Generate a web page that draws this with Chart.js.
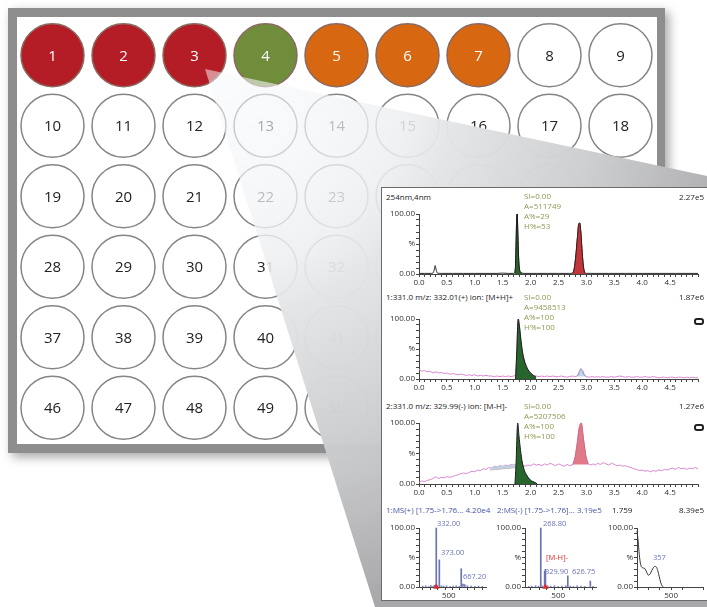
<!DOCTYPE html>
<html>
<head>
<meta charset="utf-8">
<script src="https://cdn.jsdelivr.net/npm/chart.js@4.4.1/dist/chart.umd.min.js"></script>
<style>
html, body { margin: 0; padding: 0; background: #fff; }
body { width: 707px; height: 607px; position: relative; overflow: hidden; font-family: 'Open Sans', sans-serif; }
canvas { position: absolute; }
#panel { position: absolute; left: 381px; top: 187px; width: 340px; height: 414px; background: #fff; border: 1px solid #6b6b6b; box-sizing: border-box; }
.t { position: absolute; font-size: 8px; line-height: 10px; color: #222; white-space: nowrap; }
.rt { right: 3px; }
.ann { color: #8d9a55; }
.ms { color: #4a58a6; }
.pk { color: #6c72b8; font-size: 7.5px; }
.red { color: #e0282a; font-size: 7.5px; }
.icon { position: absolute; width: 6px; height: 3px; border: 2px solid #222; border-radius: 3px; }
</style>
</head>
<body>
<canvas id="plate" width="707" height="607" style="left:0;top:0"></canvas>
<div id="panel"></div>

<canvas id="c1" width="323" height="86" style="left:384px;top:204px"></canvas>
<canvas id="c2" width="323" height="86" style="left:384px;top:309px"></canvas>
<canvas id="c3" width="323" height="87" style="left:384px;top:413px"></canvas>
<canvas id="s1" width="106" height="83" style="left:384px;top:518px"></canvas>
<canvas id="s2" width="110" height="83" style="left:490px;top:518px"></canvas>
<canvas id="s3" width="105" height="83" style="left:602px;top:518px"></canvas>

<!-- chromatogram 1 -->
<div class="t" style="left:386px;top:192px">254nm,4nm</div>
<div class="t rt" style="top:192px">2.27e5</div>
<div class="t ann" style="left:524px;top:191px">SI=0.00</div>
<div class="t ann" style="left:524px;top:201px">A=511749</div>
<div class="t ann" style="left:524px;top:211px">A%=29</div>
<div class="t ann" style="left:524px;top:221px">H%=53</div>

<!-- chromatogram 2 -->
<div class="t" style="left:386px;top:292px">1:331.0 m/z: 332.01(+) ion: [M+H]+</div>
<div class="t rt" style="top:292px">1.87e6</div>
<div class="t ann" style="left:524px;top:292px">SI=0.00</div>
<div class="t ann" style="left:524px;top:302px">A=9458513</div>
<div class="t ann" style="left:524px;top:312px">A%=100</div>
<div class="t ann" style="left:524px;top:322px">H%=100</div>
<div class="icon" style="left:694px;top:318px"></div>

<!-- chromatogram 3 -->
<div class="t" style="left:386px;top:401px">2:331.0 m/z: 329.99(-) ion: [M-H]-</div>
<div class="t rt" style="top:401px">1.27e6</div>
<div class="t ann" style="left:524px;top:401px">SI=0.00</div>
<div class="t ann" style="left:524px;top:411px">A=5207506</div>
<div class="t ann" style="left:524px;top:421px">A%=100</div>
<div class="t ann" style="left:524px;top:431px">H%=100</div>
<div class="icon" style="left:694px;top:424px"></div>

<!-- spectra -->
<div class="t ms" style="left:386px;top:505px">1:MS(+) [1.75-&gt;1.76... 4.20e4</div>
<div class="t ms" style="left:497px;top:505px">2:MS(-) [1.75-&gt;1.76]... 3.19e5</div>
<div class="t" style="left:612px;top:505px">1.759</div>
<div class="t rt" style="top:505px">8.39e5</div>
<div class="t pk" style="left:437px;top:518px">332.00</div>
<div class="t pk" style="left:441px;top:547px">373.00</div>
<div class="t pk" style="left:463px;top:571px">667.20</div>
<div class="t pk" style="left:543px;top:518px">268.80</div>
<div class="t red" style="left:546px;top:552px">[M-H]-</div>
<div class="t pk" style="left:545px;top:566px">329.90</div>
<div class="t pk" style="left:572px;top:566px">626.75</div>
<div class="t pk" style="left:653px;top:552px">357</div>

<script>
// ---- plate ----
const wellLabels = [
  1, 2, 3, 4, 5, 6, 7, 8, 9,
  10, 11, 12, 13, 14, 15, 16, 17, 18,
  19, 20, 21, 22, 23, 24, 25, 26, 27,
  28, 29, 30, 31, 32, 33, 34, 35, 36,
  37, 38, 39, 40, 41, 42, 43, 44, 45,
  46, 47, 48, 49, 50, 51, 52, 53, 54
];
const wellStatus = ['hit', 'hit', 'hit', 'ok', 'warn', 'warn', 'warn'];
const statusFill = { hit: '#b41d26', ok: '#708d3b', warn: '#d86712' };

// ---- chromatograms (time in min, %) ----
const chromTickLabels = ['0.0', '0.5', '1.0', '1.5', '2.0', '2.5', '3.0', '3.5', '4.0', '4.5'];
const yTickValues = [0, 10, 20, 30, 40, 50, 60, 70, 80, 90, 100];
const yTickText = { 0: '0.00', 50: '%', 100: '100.00' };

const uvTime = [0.0, 0.1, 0.2, 0.25, 0.27, 0.29, 0.31, 0.33, 0.4, 0.6, 0.8, 1.0, 1.2, 1.4, 1.5, 1.6, 1.7,
  1.71, 1.72, 1.73, 1.74, 1.75, 1.76, 1.77, 1.78, 1.79, 1.80, 1.82, 1.85,
  1.9, 2.1, 2.3, 2.5, 2.7,
  2.75, 2.78, 2.81, 2.84, 2.86, 2.88, 2.90, 2.92, 2.94, 2.96, 2.98,
  3.1, 3.4, 3.7, 4.0, 4.3, 4.6, 5.0];
const uvSignal = [1, 1, 1, 1.5, 6, 14, 6, 1.5, 1, 1, 1, 1, 1, 1, 1.5, 1, 1,
  1.5, 4, 15, 50, 92, 100, 72, 40, 18, 8, 3, 1.2,
  1, 1, 1, 1, 1,
  1.2, 8, 30, 62, 82, 85, 70, 42, 18, 5, 1.2,
  1, 1, 1, 1, 1, 1, 1];
const uvGreenTime = [1.71, 1.72, 1.73, 1.74, 1.75, 1.76, 1.77, 1.78, 1.79, 1.80, 1.82, 1.85];
const uvGreenSignal = [1.5, 4, 15, 50, 92, 100, 72, 40, 18, 8, 3, 1.2];
const uvRedTime = [2.75, 2.78, 2.81, 2.84, 2.86, 2.88, 2.90, 2.92, 2.94, 2.96, 2.98];
const uvRedSignal = [1.2, 8, 30, 62, 82, 85, 70, 42, 18, 5, 1.2];

const posTime = [0.00, 0.05, 0.10, 0.15, 0.20, 0.25, 0.30, 0.35, 0.40, 0.45, 0.50, 0.55, 0.60, 0.65, 0.70, 0.75,
  0.80, 0.85, 0.90, 0.95, 1.00, 1.05, 1.10, 1.15, 1.20, 1.25, 1.30, 1.35, 1.40, 1.45, 1.50, 1.55, 1.60, 1.65, 1.70,
  1.73, 1.75, 1.77, 1.78, 1.80, 1.83, 1.86, 1.90, 1.95, 2.00, 2.05, 2.10,
  2.15, 2.20, 2.25, 2.30, 2.35, 2.40, 2.45, 2.50, 2.55, 2.60, 2.65, 2.70, 2.75, 2.80,
  2.84, 2.87, 2.90, 2.93, 2.96, 3.00,
  3.05, 3.10, 3.15, 3.20, 3.25, 3.30, 3.35, 3.40, 3.45, 3.50, 3.55, 3.60, 3.65, 3.70, 3.75, 3.80, 3.85, 3.90,
  3.95, 4.00, 4.05, 4.10, 4.15, 4.20, 4.25, 4.30, 4.35, 4.40, 4.45, 4.50, 4.55, 4.60, 4.65, 4.70, 4.75, 4.80,
  4.85, 4.90, 4.95, 5.00];
const posSignal = [16, 13, 14, 12, 13, 10, 12, 10, 11, 9, 10, 8, 9, 8, 7, 8,
  7, 6, 7, 6, 7, 5, 6, 5, 6, 5, 5, 4, 5, 4, 5, 4, 5, 4, 5,
  6, 40, 92, 100, 88, 62, 42, 27, 16, 10, 6, 5,
  4, 5, 4, 5, 4, 5, 4, 4, 5, 4, 3, 4, 5, 4,
  5, 11, 17, 14, 7, 4,
  3, 4, 3, 4, 3, 4, 3, 3, 4, 3, 4, 5, 4, 3, 4, 3, 3, 4,
  3, 3, 4, 3, 3, 4, 3, 2, 3, 3, 2, 3, 3, 2, 3, 3, 2, 3,
  2, 3, 2, 2];
const posGreenTime = [1.73, 1.75, 1.77, 1.78, 1.80, 1.83, 1.86, 1.90, 1.95, 2.00, 2.05, 2.10];
const posGreenSignal = [0, 40, 92, 100, 88, 62, 42, 27, 16, 10, 6, 3];
const posBlueTime = [2.84, 2.87, 2.90, 2.93, 2.96, 3.00];
const posBlueSignal = [5, 11, 17, 14, 7, 4];

const negTime = [0.00, 0.05, 0.10, 0.15, 0.20, 0.25, 0.30, 0.33, 0.36, 0.40, 0.45, 0.50, 0.55, 0.60, 0.65, 0.70,
  0.75, 0.80, 0.85, 0.90, 0.95, 1.00, 1.05, 1.10, 1.15, 1.20, 1.25, 1.30, 1.35, 1.40, 1.45, 1.50, 1.55, 1.60,
  1.65, 1.70, 1.74, 1.80, 1.85, 1.90, 1.95, 2.00, 2.05, 2.10, 2.15, 2.20, 2.25, 2.30, 2.35, 2.40, 2.45, 2.50,
  2.55, 2.60, 2.65, 2.70, 2.76,
  2.80, 2.84, 2.87, 2.91, 2.95, 2.99, 3.03,
  3.08, 3.12, 3.16, 3.20, 3.25, 3.30, 3.35, 3.40, 3.45, 3.50, 3.55, 3.60, 3.65, 3.70, 3.75, 3.80, 3.85, 3.90,
  3.95, 4.00, 4.05, 4.10, 4.15, 4.20, 4.25, 4.30, 4.35, 4.40, 4.45, 4.50, 4.55, 4.60, 4.65, 4.70, 4.75, 4.80,
  4.85, 4.90, 4.95, 5.00];
const negSignal = [3, 5, 4, 6, 7, 9, 12, 10, 9, 11, 10, 12, 11, 12, 14, 15,
  17, 18, 17, 19, 21, 20, 23, 22, 25, 24, 27, 26, 29, 28, 30, 29, 31, 30,
  32, 31, 33, 30, 32, 29, 31, 30, 33, 31, 32, 30, 33, 31, 34, 32, 30, 33,
  31, 29, 32, 30, 32,
  45, 70, 92, 100, 72, 46, 33,
  31, 33, 31, 34, 32, 35, 33, 31, 34, 32, 30, 31, 29, 30, 28, 27, 25, 24,
  22, 23, 21, 22, 20, 22, 21, 23, 22, 24, 23, 25, 26, 24, 27, 25, 26, 24,
  26, 25, 27, 25];
const negGreenTime = [1.72, 1.74, 1.76, 1.77, 1.79, 1.82, 1.85, 1.89, 1.94, 1.99, 2.04, 2.09, 2.12];
const negGreenSignal = [0, 35, 90, 100, 80, 55, 36, 22, 13, 7, 4, 2, 0];
const negPinkTime = [2.76, 2.80, 2.84, 2.87, 2.91, 2.95, 2.99, 3.03];
const negPinkSignal = [32, 45, 70, 92, 100, 72, 46, 33];
const negBlueTime = [1.27, 1.30, 1.35, 1.40, 1.45, 1.50, 1.55, 1.60, 1.65, 1.70, 1.74];
const negBlueSignal = [26, 26, 29, 28, 30, 29, 31, 30, 32, 31, 33];
const negBlueBaseTime = [1.27, 1.74];
const negBlueBaseSignal = [23, 27];

// ---- spectra ----
const ms1Mz = [150, 190, 230, 260, 290, 310, 332, 350, 373, 400, 430, 470, 520, 560, 600, 640, 667.2, 690, 715, 750, 800, 850, 900, 950];
const ms1Int = [1.5, 2, 1, 2.5, 1.5, 3, 100, 2, 46, 2, 1.5, 2, 1, 1.5, 2, 1, 31, 5, 4, 2, 1.5, 1, 1.5, 1];
const ms2Mz = [110, 150, 200, 240, 268.8, 290, 320, 331, 360, 400, 450, 500, 550, 600, 626.75, 660, 700, 750, 800, 850, 925, 960];
const ms2Int = [1, 1.5, 2, 1.5, 100, 2, 27, 30, 2, 1.5, 2, 1, 1.5, 2, 19, 1.5, 1, 2, 1.5, 1, 10, 1];
const specTickLabels = ['500'];
const uvNm = [200, 210, 220, 232, 245, 258, 270, 285, 300, 315, 330, 345, 357, 370, 382, 395, 408, 420, 432];
const uvAbs = [95, 78, 55, 38, 33, 32, 31, 25, 20, 22, 28, 33, 35, 34, 28, 18, 8, 2, 0];

Chart.defaults.font.family = "'Open Sans', sans-serif";
Chart.defaults.font.size = 8;
Chart.defaults.color = '#333';

function pts(xs, ys) {
  return xs.map((x, i) => ({ x: x, y: ys[i] }));
}

// plate chart with frame, labels and the magnifier cone
new Chart(document.getElementById('plate'), {
  type: 'scatter',
  data: {
    datasets: [{
      data: wellLabels.map((n, i) => ({ x: i % 9 + 1, y: Math.floor(i / 9) + 1 })),
      pointRadius: 31.5,
      pointHoverRadius: 31.5,
      pointBorderWidth: 1.5,
      pointBackgroundColor: wellLabels.map((n, i) => wellStatus[i] ? statusFill[wellStatus[i]] : '#ffffff'),
      pointBorderColor: wellLabels.map((n, i) => wellStatus[i] ? '#8a6a60' : '#858585')
    }]
  },
  options: {
    responsive: false,
    animation: false,
    events: [],
    layout: { autoPadding: false, padding: { left: 17, right: 51, top: 20, bottom: 164 } },
    plugins: { legend: { display: false }, tooltip: { enabled: false } },
    scales: {
      x: { display: false, min: 0.5, max: 9.5 },
      y: { display: false, min: 0.5, max: 6.5, reverse: true }
    }
  },
  plugins: [{
    id: 'plateFrame',
    beforeDraw(chart) {
      const ctx = chart.ctx;
      ctx.save();
      ctx.shadowColor = 'rgba(0,0,0,0.35)';
      ctx.shadowBlur = 10;
      ctx.shadowOffsetX = 4;
      ctx.shadowOffsetY = 4;
      ctx.fillStyle = '#8e8e8e';
      ctx.fillRect(8, 8, 657, 445);
      ctx.restore();
      ctx.fillStyle = '#ffffff';
      ctx.fillRect(17, 17, 640, 427);
    },
    afterDatasetsDraw(chart) {
      const ctx = chart.ctx;
      const meta = chart.getDatasetMeta(0);
      ctx.save();
      ctx.font = "15px 'Open Sans', sans-serif";
      ctx.textAlign = 'center';
      ctx.textBaseline = 'middle';
      meta.data.forEach((el, i) => {
        ctx.fillStyle = wellStatus[i] ? '#ffffff' : '#222222';
        ctx.fillText(String(wellLabels[i]), el.x, el.y + 1);
      });
      ctx.restore();
    },
    afterDraw(chart) {
      const ctx = chart.ctx;
      ctx.save();
      const g = ctx.createRadialGradient(205, 69, 0, 205, 69, 560);
      g.addColorStop(0, 'rgba(246,248,251,0.5)');
      g.addColorStop(0.25, 'rgba(242,244,246,0.72)');
      g.addColorStop(0.37, 'rgba(236,238,240,0.86)');
      g.addColorStop(0.45, 'rgba(228,229,231,0.97)');
      g.addColorStop(0.7, 'rgba(205,206,208,0.98)');
      g.addColorStop(1, 'rgba(168,168,170,1)');
      ctx.fillStyle = g;
      ctx.beginPath();
      ctx.moveTo(205, 69);
      ctx.lineTo(707, 176);
      ctx.lineTo(707, 607);
      ctx.lineTo(375, 607);
      ctx.closePath();
      ctx.fill();
      ctx.restore();
    }
  }]
});

function axisX(min, max, step, labels, height) {
  return {
    type: 'linear', min: min, max: max, offset: false,
    afterFit(s) { s.height = height; },
    grid: { drawOnChartArea: false, tickLength: 3, color: '#444' },
    border: { color: '#444' },
    ticks: {
      stepSize: step, autoSkip: false, maxRotation: 0, padding: 1,
      callback(v) {
        const s = step < 1 ? (+v).toFixed(1) : String(Math.round(v));
        return labels.includes(s) ? s : '';
      }
    }
  };
}

function axisY() {
  return {
    min: 0, max: 100,
    afterFit(s) { s.width = 35; },
    afterBuildTicks(s) { s.ticks = yTickValues.map(v => ({ value: v })); },
    grid: { drawOnChartArea: false, tickLength: 3, color: '#444' },
    border: { color: '#444' },
    ticks: { padding: 1, autoSkip: false, callback(v) { return yTickText[v] || ''; } }
  };
}

function baseOptions(xAxis, rightPad) {
  return {
    responsive: false,
    animation: false,
    events: [],
    layout: { padding: { top: 10, right: rightPad, left: 0, bottom: 0 } },
    plugins: { legend: { display: false }, tooltip: { enabled: false } },
    elements: { point: { radius: 0 }, line: { borderWidth: 1 } },
    scales: { x: xAxis, y: axisY() }
  };
}

function peak(xs, ys, fillColor, lineColor, fill) {
  return {
    data: pts(xs, ys), borderColor: lineColor, backgroundColor: fillColor,
    fill: fill, cubicInterpolationMode: 'monotone', clip: 6, borderWidth: 1
  };
}

// chromatogram 1 (UV 254 nm)
new Chart(document.getElementById('c1'), {
  type: 'line',
  data: {
    datasets: [
      peak(uvGreenTime, uvGreenSignal, '#27652d', '#1a1a1a', 'origin'),
      peak(uvRedTime, uvRedSignal, '#c1363b', '#3a1a1a', 'origin'),
      { data: pts(uvTime, uvSignal), borderColor: '#2a2a2a', fill: false, cubicInterpolationMode: 'monotone', clip: 6 }
    ]
  },
  options: baseOptions(axisX(0, 5, 0.1, chromTickLabels, 16), 9)
});

// chromatogram 2 ([M+H]+)
new Chart(document.getElementById('c2'), {
  type: 'line',
  data: {
    datasets: [
      peak(posGreenTime, posGreenSignal, '#27652d', '#1a1a1a', 'origin'),
      peak(posBlueTime, posBlueSignal, '#bcd7e8', '#a78ac8', { value: 4 }),
      { data: pts(posTime, posSignal), borderColor: '#d987cf', fill: false, clip: 6 }
    ]
  },
  options: baseOptions(axisX(0, 5, 0.1, chromTickLabels, 16), 9)
});

// chromatogram 3 ([M-H]-)
new Chart(document.getElementById('c3'), {
  type: 'line',
  data: {
    datasets: [
      peak(negGreenTime, negGreenSignal, '#27652d', '#1a1a1a', 'origin'),
      peak(negPinkTime, negPinkSignal, '#e07a8a', '#d06a80', { value: 32 }),
      { data: pts(negBlueTime, negBlueSignal), borderColor: 'rgba(0,0,0,0)', backgroundColor: '#bcd3df', fill: '+1', clip: 6 },
      { data: pts(negBlueBaseTime, negBlueBaseSignal), borderColor: '#c9a0a8', borderWidth: 1, fill: false },
      { data: pts(negTime, negSignal), borderColor: '#d987cf', fill: false, clip: 6 }
    ]
  },
  options: baseOptions(axisX(0, 5, 0.1, chromTickLabels, 16), 9)
});

function spectrum(id, mz, inten, min, max, precursor) {
  new Chart(document.getElementById(id), {
    type: 'bar',
    data: {
      datasets: [
        { type: 'scatter', data: [{ x: precursor, y: 0 }], pointStyle: 'triangle', pointRadius: 3.5, backgroundColor: '#e0282a', borderWidth: 0, clip: false },
        { data: pts(mz, inten), backgroundColor: '#6b73b6', barThickness: 1, grouped: false, clip: 6 }
      ]
    },
    options: baseOptions(axisX(min, max, 100, specTickLabels, 14), 0)
  });
}
spectrum('s1', ms1Mz, ms1Int, 100, 1000, 332);
spectrum('s2', ms2Mz, ms2Int, 60, 1000, 329.9);

// UV spectrum at 1.759 min
new Chart(document.getElementById('s3'), {
  type: 'line',
  data: {
    datasets: [{ data: pts(uvNm, uvAbs), borderColor: '#333', fill: false, cubicInterpolationMode: 'monotone', clip: 6 }]
  },
  options: baseOptions(axisX(200, 780, 100, specTickLabels, 14), 4)
});
</script>
</body>
</html>
